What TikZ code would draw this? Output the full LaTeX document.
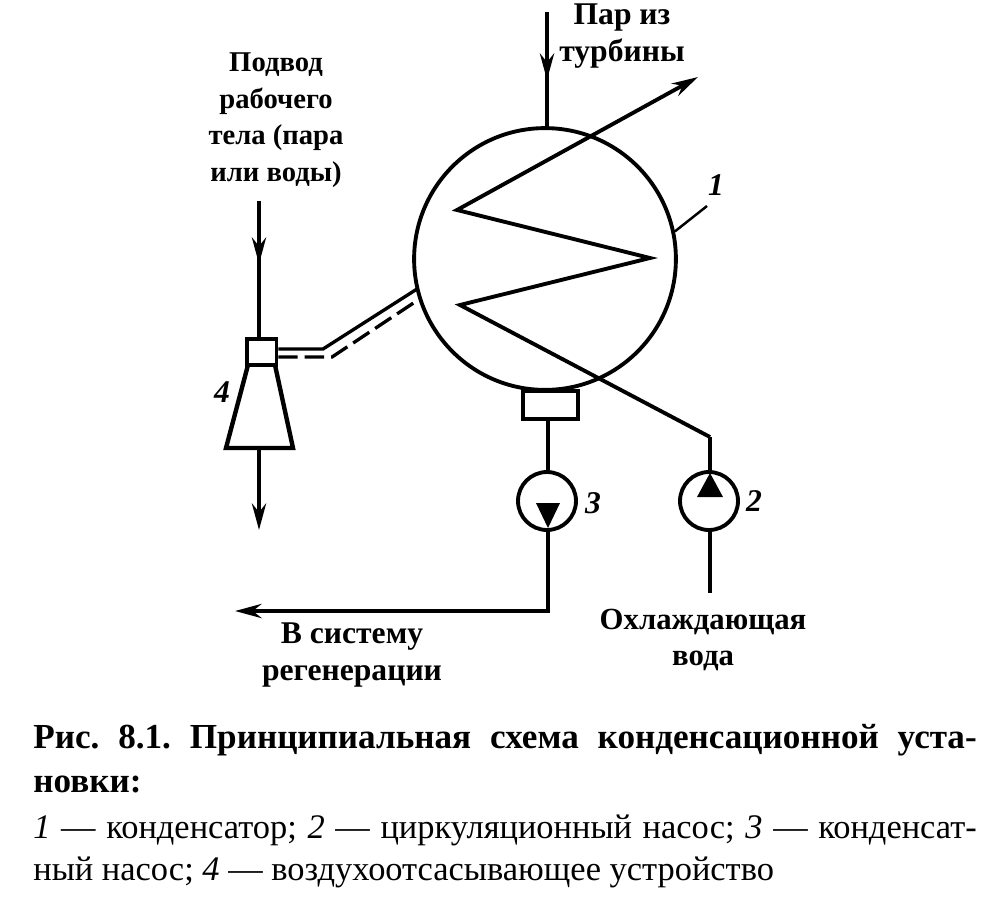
\documentclass[tikz,border=0pt]{standalone}
\usepackage{fontspec}
\setmainfont{Liberation Serif}
\usetikzlibrary{shapes.geometric, calc, arrows.meta, positioning}
\tikzset{
  pipe/.style={line width=2.5pt},
  coil/.style={line width=2.2pt},
  flow/.style={pipe,-{Stealth[length=15pt,width=8pt]}},
  txt/.style={font=\fontsize{18}{20.8}\selectfont\bfseries,align=center,inner sep=0pt},
  numtxt/.style={font=\fontsize{18}{20}\selectfont\bfseries\itshape,inner sep=0pt},
  pump/.style={circle,draw,line width=2.2pt,minimum size=33pt,inner sep=0pt},
  captxt/.style={text width=537pt,align=justify,inner sep=0pt,anchor=north west,font=\fontsize{19.6}{23.5}\selectfont\frenchspacing},
}

\begin{document}
\begin{tikzpicture}[x=0.02cm,y=-0.02cm]
  \useasboundingbox (0,0) rectangle (984,907);

  % Condenser with its collector underneath
  \node[circle,draw,line width=2.2pt,minimum size=149pt,inner sep=0pt] (cond) at (545,259) {};
  \node[draw,line width=2.2pt,minimum width=31pt,minimum height=16pt,inner sep=0pt] (coll) at (550.5,405) {};

  % Pumps
  \node[pump] (pumpc) at (547,501) {};
  \node[pump] (pumpw) at (709,501) {};
  \fill (536,503) -- (560,503) -- (548,528) -- cycle;
  \fill (697,497) -- (723,497) -- (710,473) -- cycle;

  % Air ejector
  \node[draw,line width=2.2pt,minimum width=17pt,minimum height=15pt,inner sep=0pt] (ejbox) at (261.5,352) {};
  \coordinate (ejbase) at (259,448);
  \draw[pipe,line join=miter] (248,365) -- (226,448) -- (293,448) -- (275,365);

  % Free ends of the connectors
  \coordinate (steamin) at (547,12);
  \coordinate (steammid) at (547,80);
  \coordinate (coilout) at (698,77);
  \coordinate (coila) at (457,210);
  \coordinate (coilb) at (650,258);
  \coordinate (coilc) at (460,305);
  \coordinate (coild) at (710,437);
  \coordinate (feedend) at (710,593);
  \coordinate (corner) at (548,611);
  \coordinate (regen) at (235,611);
  \coordinate (workin) at (259,201);
  \coordinate (workmid) at (259,264);
  \coordinate (ejout) at (259,530);

  % Steam, cooling coil, condensate
  \draw[pipe] (steamin) -- (steamin |- cond.north);
  \draw[flow] (steamin) -- (steammid);
  \draw[coil,-{Stealth[length=15pt,width=8pt]}] (coild) -- (coilc) -- (coilb) -- (coila) -- (coilout);
  \draw[pipe] (coild) -- (coild |- pumpw.north);
  \draw[pipe] (coild |- pumpw.south) -- (feedend);
  \draw[pipe] (corner |- coll.south) -- (corner |- pumpc.north);
  \draw[flow] (corner |- pumpc.south) -- (corner) -- (regen);

  % Working medium through the ejector
  \draw[pipe] (workin) -- (workin |- ejbox.north);
  \draw[flow] (workin) -- (workmid);
  \draw[flow] (ejbase) -- (ejout);

  % Air line, solid and dashed
  \draw[line width=1.9pt] (ejbox.east |- 0,349) -- (323,349) -- (417,289);
  \draw[line width=1.9pt,dash pattern=on 11pt off 4pt] (ejbox.east |- 0,357) -- (332,357) -- (418,300);

  % Leader to the condenser number
  \coordinate (leader) at (707,206);
  \draw[line width=1.4pt] (cond.12) -- (leader);

  \node[numtxt] (numc) at (716,185) {1};
  \node[numtxt] (numw) at (754,501) {2};
  \node[numtxt] (nump) at (593,503) {3};
  \node[numtxt] (nume) at (222,392) {4};

  \node[txt] (steamtxt) at (622,36) {Пар из\\турбины};
  \node[txt,font=\fontsize{16.3}{20.8}\selectfont\bfseries] (worktxt) at (276,120) {Подвод\\рабочего\\тела (пара\\или воды)};
  \node[txt] (regentxt) at (352,655) {В систему\\регенерации};
  \node[txt,font=\fontsize{17.5}{20.8}\selectfont\bfseries] (feedtxt) at (703,640) {Охлаждающая\\вода};

  \node[captxt,font=\fontsize{20}{25}\selectfont\frenchspacing] (captitle) at (33,724) {\bfseries Рис. 8.1. Принципиальная схема конденсационной уста-\linebreak новки:};
  \node[captxt] (capkey) at (33,815) {\textit{1} — конденсатор; \textit{2} — циркуляционный насос; \textit{3} — конденсат-\linebreak ный насос; \textit{4} — воздухоотсасывающее устройство};
\end{tikzpicture}
\end{document}
